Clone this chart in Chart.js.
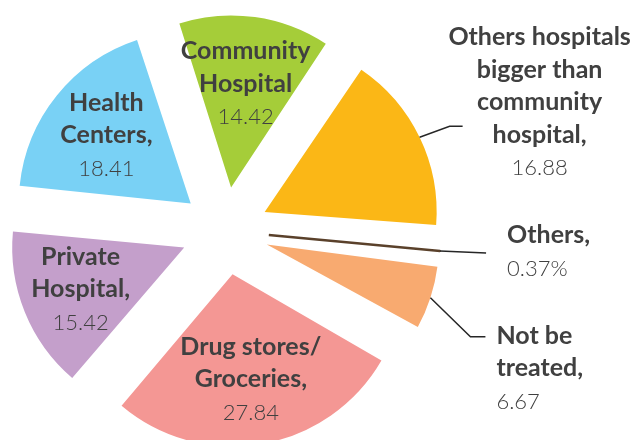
<!DOCTYPE html>
<html>
<head>
<meta charset="utf-8">
<script src="https://cdn.jsdelivr.net/npm/chart.js@4"></script>
<style>
  html, body { margin: 0; padding: 0; background: #fff; }
  #wrap { width: 637px; height: 440px; }
</style>
</head>
<body>
<div id="wrap"><canvas id="pie" width="637" height="440"></canvas></div>
<script>
// --- DATA ---
const categories = ['Community Hospital', 'Others hospitals bigger than community hospital', 'Others', 'Not be treated', 'Drug stores/Groceries', 'Private Hospital', 'Health Centers'];
const shares = [14.42, 16.88, 0.37, 6.67, 27.84, 15.42, 18.41];
const shareTexts = ['14.42', '16.88', '0.37%', '6.67', '27.84', '15.42', '18.41'];
const nameLines = [
    ['Community', 'Hospital'],
    ['Others hospitals', 'bigger than', 'community', 'hospital,'],
    ['Others,'],
    ['Not be', 'treated,'],
    ['Drug stores/', 'Groceries,'],
    ['Private', 'Hospital,'],
    ['Health', 'Centers,']
];

// --- STYLE ---
const sliceColors = ['#A5CD39', '#FBB716', '#5A412B', '#F8AA70', '#F49794', '#C49FCB', '#79D1F5'];
// the 0.37% sliver is thinner than chart.js's offset trim, so it gets a stroke
const sliceBorders = [0, 0, 2.5, 0, 0, 0, 0];
const PIE_RADIUS = 172;
const EXPLODE = 176;      // chart.js moves each arc by offset / 4
const LINE_H = 32.5;
const TEXT_COLOR = '#404040';

// where each label goes: inside the slice, or out at the end of a leader line
const labelLayout = [
    { inside: 0.61 },
    { elbow: [30, -11], tail: [43, -11], textDx: 77, textDy: -81, align: 'center' },
    { elbow: null, tail: [46, 2], textDx: 21, textDy: -10, align: 'left' },
    { elbow: [40, 39], tail: [55, 39], textDx: 11, textDy: 7, align: 'left' },
    { inside: 0.62 },
    { inside: 0.65 },
    { inside: 0.63 }
];

// keep the visible radius even: chart.js grows narrow arcs when they are offset
const evenRadius = {
    id: 'evenRadius',
    afterDatasetUpdate(chart, args) {
        args.meta.data.forEach(arc => {
            const fix = 1 - Math.sin(Math.min(Math.PI, arc.circumference));
            arc.outerRadius = PIE_RADIUS - (EXPLODE / 4) * fix;
        });
    }
};

function drawBlock(ctx, lines, value, x, firstBaseline, align) {
    ctx.textAlign = align;
    ctx.textBaseline = 'alphabetic';
    ctx.fillStyle = TEXT_COLOR;
    ctx.font = 'bold 25px Lato';
    lines.forEach((t, k) => ctx.fillText(t, x, firstBaseline + k * LINE_H));
    ctx.font = '300 22px Lato';
    ctx.fillText(value, x, firstBaseline + lines.length * LINE_H);
}

const sliceLabels = {
    id: 'sliceLabels',
    afterDatasetsDraw(chart) {
        const ctx = chart.ctx;
        const meta = chart.getDatasetMeta(0);
        ctx.save();
        meta.data.forEach((arc, i) => {
            const { x, y, startAngle, endAngle } = arc.getProps(['x', 'y', 'startAngle', 'endAngle'], true);
            const mid = (startAngle + endAngle) / 2;
            const shift = EXPLODE / 4;
            const ax = x + Math.cos(mid) * shift;
            const ay = y + Math.sin(mid) * shift;
            const lay = labelLayout[i];
            const lines = nameLines[i];
            const total = lines.length + 1;

            if (lay.inside) {
                const px = ax + Math.cos(mid) * PIE_RADIUS * lay.inside;
                const py = ay + Math.sin(mid) * PIE_RADIUS * lay.inside;
                const first = py - (total - 1) / 2 * LINE_H + 8;
                drawBlock(ctx, lines, shareTexts[i], px, first, 'center');
                return;
            }

            // leader line from the rim of the slice
            const sx = ax + Math.cos(mid) * PIE_RADIUS;
            const sy = ay + Math.sin(mid) * PIE_RADIUS;
            ctx.strokeStyle = '#262626';
            ctx.lineWidth = 1.5;
            ctx.beginPath();
            ctx.moveTo(sx, sy);
            if (lay.elbow) ctx.lineTo(sx + lay.elbow[0], sy + lay.elbow[1]);
            const ex = sx + lay.tail[0], ey = sy + lay.tail[1];
            ctx.lineTo(ex, ey);
            ctx.stroke();
            drawBlock(ctx, lines, shareTexts[i], ex + lay.textDx, ey + lay.textDy, lay.align);
        });
        ctx.restore();
    }
};

new Chart(document.getElementById('pie'), {
    type: 'pie',
    data: {
        labels: categories,
        datasets: [{
            data: shares,
            backgroundColor: sliceColors,
            borderColor: sliceColors,
            borderWidth: sliceBorders,
            offset: EXPLODE,
            hoverOffset: 0
        }]
    },
    options: {
        responsive: false,
        animation: false,
        events: [],
        rotation: -18,
        radius: PIE_RADIUS,
        layout: { padding: { left: 0, right: 187, top: 22, bottom: 0 } },
        plugins: { legend: { display: false }, tooltip: { enabled: false } }
    },
    plugins: [evenRadius, sliceLabels]
});
</script>
</body>
</html>
